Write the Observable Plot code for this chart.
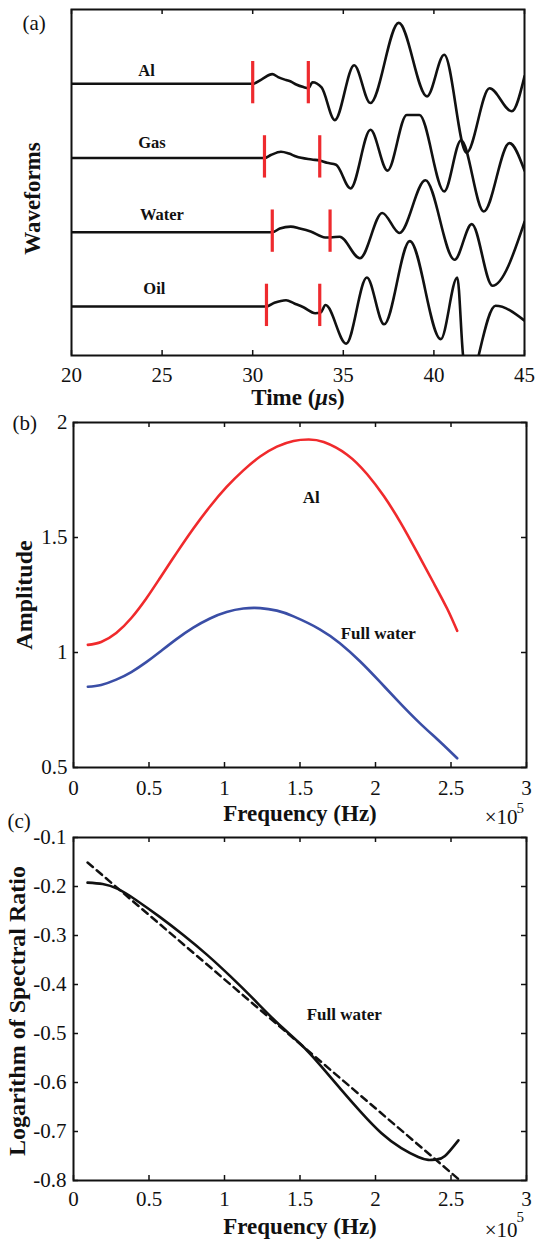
<!DOCTYPE html>
<html><head><meta charset="utf-8">
<script src="https://cdn.jsdelivr.net/npm/d3@7"></script>
<script src="https://cdn.jsdelivr.net/npm/@observablehq/plot@0.6"></script>
<style>
body{margin:0;background:#fff;}
#wrap{position:relative;width:540px;height:1243px;overflow:hidden;}
#wrap > svg{position:absolute;left:0;}
</style>
</head><body><div id="wrap"></div>
<script>
// ---------- Panel (a): waveforms ----------
const traceNames = ["Al", "Gas", "Water", "Oil"];
const traceOffsets = [4, 3, 2, 1];
const alTime  = [20, 30.0, 30.5, 31.08, 31.4, 31.84, 32.1, 32.4, 32.8, 33.07, 33.3, 33.8, 34.53, 35.6, 36.49, 38.06, 39.62, 40.57, 41.8, 43.07, 44.3, 45.0];
const alAmp   = [0, 0, 0.06, 0.13, 0.09, 0.05, 0.03, -0.01, -0.045, -0.06, 0.02, -0.05, -0.49, 0.25, -0.26, 0.82, -0.17, 0.39, -0.93, -0.06, -0.37, 0.10];
const gasTime = [20, 30.65, 31.0, 31.56, 32.0, 32.4, 33.26, 33.7, 34.1, 34.6, 35.4, 36.5, 37.44, 38.5, 39.2, 40.57, 41.5, 42.75, 44.17, 45.0];
const gasAmp  = [0, 0, 0.04, 0.085, 0.06, 0.02, -0.02, -0.035, -0.065, -0.09, -0.41, 0.38, -0.17, 0.58, 0.58, -0.45, 0.24, -0.72, 0.2, -0.17];
const waterTime = [20, 31.08, 31.5, 32.1, 32.6, 33.2, 34.0, 34.3, 34.8, 35.92, 37.15, 38.1, 39.53, 41.14, 42.09, 43.23, 45.0];
const waterAmp  = [0, 0, 0.05, 0.076, 0.05, 0.01, -0.07, -0.07, -0.06, -0.35, 0.26, -0.01, 0.70, -0.37, 0.11, -0.72, 0.14];
const oilTime = [20, 30.76, 31.2, 31.84, 32.3, 32.8, 33.45, 33.75, 34.02, 35.16, 36.3, 37.25, 38.67, 40.38, 41.29, 41.61, 42.05, 42.47, 43.4, 45.0];
const oilAmp  = [0, 0, 0.05, 0.085, 0.04, -0.01, -0.09, -0.08, 0.02, -0.5, 0.39, -0.24, 0.88, -0.44, 0.39, -0.66, -1.15, -0.66, 0.01, -0.19];
const pickStart = [30.0, 30.65, 31.08, 30.76];
const pickEnd   = [33.07, 33.7, 34.27, 33.7];
const timeTicks = [20, 25, 30, 35, 40, 45];

// ---------- Panel (b): amplitude spectra ----------
const alFreq  = [0.095, 0.183, 0.283, 0.383, 0.482, 0.571, 0.682, 0.793, 0.904, 1.014, 1.125, 1.236, 1.347, 1.457, 1.557, 1.657, 1.812, 1.945, 2.055, 2.166, 2.276, 2.387, 2.475, 2.541];
const alSpec  = [1.033, 1.046, 1.085, 1.150, 1.235, 1.322, 1.432, 1.538, 1.635, 1.720, 1.792, 1.852, 1.895, 1.920, 1.926, 1.915, 1.860, 1.775, 1.680, 1.565, 1.435, 1.300, 1.190, 1.094];
const waterFreq = [0.095, 0.183, 0.283, 0.383, 0.482, 0.571, 0.682, 0.793, 0.904, 1.014, 1.125, 1.236, 1.347, 1.457, 1.631, 1.764, 1.897, 2.030, 2.162, 2.295, 2.427, 2.541];
const waterSpec = [0.851, 0.859, 0.882, 0.915, 0.958, 1.002, 1.058, 1.108, 1.148, 1.176, 1.191, 1.193, 1.182, 1.157, 1.101, 1.040, 0.962, 0.872, 0.780, 0.692, 0.612, 0.540];
const freqTicks = [0, 0.5, 1, 1.5, 2, 2.5, 3];
const ampTicks = [0.5, 1, 1.5, 2];

// ---------- Panel (c): log spectral ratio ----------
const freqRatio = [0.093, 0.193, 0.293, 0.416, 0.571, 0.727, 0.883, 1.038, 1.193, 1.349, 1.505, 1.638, 1.771, 1.905, 2.038, 2.171, 2.283, 2.349, 2.405, 2.46, 2.549];
const logRatio  = [-0.192, -0.195, -0.205, -0.228, -0.262, -0.299, -0.339, -0.383, -0.430, -0.478, -0.522, -0.566, -0.614, -0.661, -0.703, -0.734, -0.752, -0.758, -0.757, -0.750, -0.718];
const fitFreq = [0.093, 2.549];
const fitLog  = [-0.151, -0.797];
const ratioTicks = [-0.8, -0.7, -0.6, -0.5, -0.4, -0.3, -0.2, -0.1];

// ---------- helpers ----------
const serif = "'Liberation Serif', 'Times New Roman', serif";
const ink = "#111";
const baseStyle = {fontFamily: serif, fontSize: "21px", background: "transparent", overflow: "visible", color: ink};
const str = d => String(d);
const T = d => d;
const TICK = 5;

const waveRows = [];
[[alTime, alAmp], [gasTime, gasAmp], [waterTime, waterAmp], [oilTime, oilAmp]].forEach(([X, A], i) => {
  X.forEach((t, j) => waveRows.push({trace: traceNames[i], t, y: traceOffsets[i] + A[j]}));
});
const pickRows = traceNames.flatMap((n, i) => [pickStart[i], pickEnd[i]].map(t => ({trace: n, t, y1: traceOffsets[i] - 0.27, y2: traceOffsets[i] + 0.3})));
const labelRows = [
  {text: "Al", t: 24.14, y: traceOffsets[0] + 0.175},
  {text: "Gas", t: 24.44, y: traceOffsets[1] + 0.2},
  {text: "Water", t: 24.99, y: traceOffsets[2] + 0.23},
  {text: "Oil", t: 24.57, y: traceOffsets[3] + 0.24}
];
const specRows = [
  ...alFreq.map((f, i) => ({series: "Al", f, a: alSpec[i]})),
  ...waterFreq.map((f, i) => ({series: "Full water", f, a: waterSpec[i]}))
];
const ratioRows = freqRatio.map((f, i) => ({f, v: logRatio[i]}));
const fitRows = fitFreq.map((f, i) => ({f, v: fitLog[i]}));

// inward MATLAB-style ticks
function boxTicks(xt, yt, plotW, plotH) {
  const m = [
    Plot.ruleX(xt, {x: T, insetTop: plotH - TICK, stroke: ink, strokeWidth: 1.5}),
    Plot.ruleX(xt, {x: T, insetBottom: plotH - TICK, stroke: ink, strokeWidth: 1.5})
  ];
  if (yt) m.push(
    Plot.ruleY(yt, {y: T, insetRight: plotW - TICK, stroke: ink, strokeWidth: 1.5}),
    Plot.ruleY(yt, {y: T, insetLeft: plotW - TICK, stroke: ink, strokeWidth: 1.5})
  );
  return m;
}
function place(svg, top) { svg.style.top = top + "px"; document.getElementById("wrap").appendChild(svg); }
const lbl = (s, o) => Plot.text([s], {text: T, textAnchor: "middle", lineAnchor: "middle", ...o});

// ---------- Panel (a) ----------
const A = {h: 415, mt: 9, mb: 60, ml: 71, mr: 16};
const pa = Plot.plot({
  width: 540, height: A.h, marginTop: A.mt, marginBottom: A.mb, marginLeft: A.ml, marginRight: A.mr,
  style: baseStyle,
  x: {domain: [20, 45]},
  y: {domain: [0.34, 5], axis: null},
  marks: [
    Plot.line(waveRows, {x: "t", y: "y", z: "trace", stroke: ink, strokeWidth: 2.6, curve: "monotone-x", clip: true}),
    Plot.ruleX(pickRows, {x: "t", y1: "y1", y2: "y2", stroke: "#ee2a2e", strokeWidth: 3.2}),
    Plot.text(labelRows, {x: "t", y: "y", text: "text", fontWeight: "bold", fontSize: 16.5, fill: ink}),
    ...boxTicks(timeTicks, null, 540 - A.ml - A.mr, A.h - A.mt - A.mb),
    Plot.frame({stroke: ink, strokeWidth: 2}),
    Plot.axisX({ticks: timeTicks, anchor: "bottom", tickSize: 0, tickPadding: 12, tickFormat: str, label: null}),
    lbl("Time (μs)", {frameAnchor: "bottom", dy: 42, fontWeight: "bold", fontSize: 23}),
    lbl("Waveforms", {frameAnchor: "left", rotate: -90, dx: -39, dy: 16, fontWeight: "bold", fontSize: 23}),
    lbl("(a)", {frameAnchor: "top-left", textAnchor: "start", dx: -49, dy: 14, fontSize: 21})
  ]
});
place(pa, 0);
pa.querySelectorAll("text").forEach(el => {
  if (el.textContent === "Time (μs)") el.innerHTML = 'Time (<tspan font-style="italic">μ</tspan>s)';
});

// ---------- Panel (b) ----------
const B = {h: 413, mt: 7, mb: 61, ml: 73, mr: 14};
const pb = Plot.plot({
  width: 540, height: B.h, marginTop: B.mt, marginBottom: B.mb, marginLeft: B.ml, marginRight: B.mr,
  style: baseStyle,
  x: {domain: [0, 3]},
  y: {domain: [0.5, 2]},
  color: {domain: ["Al", "Full water"], range: ["#f02a2c", "#3a4ea6"]},
  marks: [
    Plot.line(specRows, {x: "f", y: "a", z: "series", stroke: "series", strokeWidth: 2.6, curve: "natural"}),
    Plot.text(["Al"], {text: T, x: 1.575, y: 1.674, fontWeight: "bold", fontSize: 17, fill: ink}),
    Plot.text(["Full water"], {text: T, x: 2.018, y: 1.084, fontWeight: "bold", fontSize: 17, fill: ink}),
    ...boxTicks(freqTicks, ampTicks, 540 - B.ml - B.mr, B.h - B.mt - B.mb),
    Plot.frame({stroke: ink, strokeWidth: 2}),
    Plot.axisX({ticks: freqTicks, anchor: "bottom", tickSize: 0, tickPadding: 13, tickFormat: str, label: null}),
    Plot.axisY({ticks: ampTicks, anchor: "left", tickSize: 0, tickPadding: 6, tickFormat: str, label: null}),
    lbl("Frequency (Hz)", {frameAnchor: "bottom", dy: 46, fontWeight: "bold", fontSize: 23}),
    lbl("×10", {frameAnchor: "bottom-right", textAnchor: "end", dx: -9, dy: 50, fontSize: 21}),
    lbl("5", {frameAnchor: "bottom-right", textAnchor: "start", dx: -10, dy: 41, fontSize: 15}),
    lbl("Amplitude", {frameAnchor: "left", rotate: -90, dx: -49, fontWeight: "bold", fontSize: 24}),
    lbl("(b)", {frameAnchor: "top-left", textAnchor: "start", dx: -61, dy: 1, fontSize: 21})
  ]
});
place(pb, 415);

// ---------- Panel (c) ----------
const C = {h: 428, mt: 22, mb: 63, ml: 73, mr: 14};
const pc = Plot.plot({
  width: 540, height: C.h, marginTop: C.mt, marginBottom: C.mb, marginLeft: C.ml, marginRight: C.mr,
  style: baseStyle,
  x: {domain: [0, 3]},
  y: {domain: [-0.8, -0.1]},
  marks: [
    Plot.line(fitRows, {x: "f", y: "v", stroke: ink, strokeWidth: 2.5, strokeDasharray: "7,5"}),
    Plot.line(ratioRows, {x: "f", y: "v", stroke: ink, strokeWidth: 2.6, curve: "natural"}),
    Plot.text(["Full water"], {text: T, x: 1.793, y: -0.462, fontWeight: "bold", fontSize: 17, fill: ink}),
    ...boxTicks(freqTicks, ratioTicks, 540 - C.ml - C.mr, C.h - C.mt - C.mb),
    Plot.frame({stroke: ink, strokeWidth: 2}),
    Plot.axisX({ticks: freqTicks, anchor: "bottom", tickSize: 0, tickPadding: 11, tickFormat: str, label: null}),
    Plot.axisY({ticks: ratioTicks, anchor: "left", tickSize: 0, tickPadding: 7, tickFormat: str, label: null}),
    lbl("Frequency (Hz)", {frameAnchor: "bottom", dy: 46, fontWeight: "bold", fontSize: 23}),
    lbl("×10", {frameAnchor: "bottom-right", textAnchor: "end", dx: -9, dy: 50, fontSize: 21}),
    lbl("5", {frameAnchor: "bottom-right", textAnchor: "start", dx: -10, dy: 37, fontSize: 15}),
    lbl("Logarithm of Spectral Ratio", {frameAnchor: "left", rotate: -90, dx: -56, dy: 2, fontWeight: "bold", fontSize: 24}),
    lbl("(c)", {frameAnchor: "top-left", textAnchor: "start", dx: -66, dy: -16, fontSize: 21})
  ]
});
place(pc, 815);
</script>
</body></html>
